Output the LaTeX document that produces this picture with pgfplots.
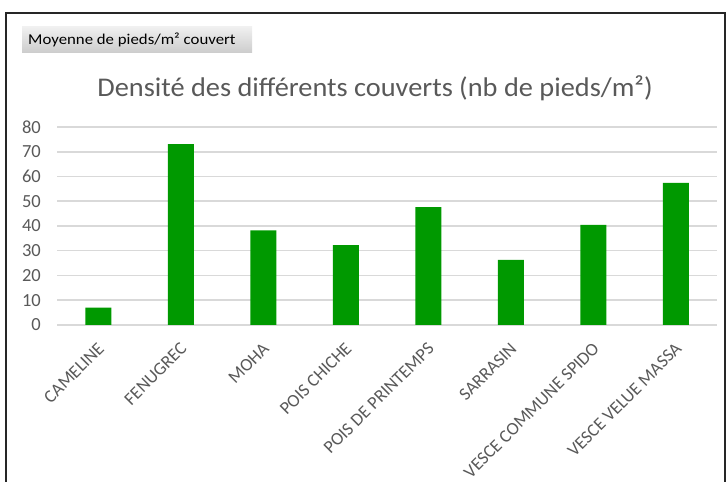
\documentclass[border=0pt]{standalone}
\usepackage{fontspec}
\setmainfont{Carlito}
\usepackage{pgfplots}
\pgfplotsset{compat=1.18}
\definecolor{barg}{RGB}{0,153,0}
\definecolor{txtg}{RGB}{89,89,89}
\definecolor{gridg}{RGB}{217,217,217}
\begin{document}
\begin{tikzpicture}[x=1bp,y=1bp]
\path[use as bounding box] (0,0) rectangle (728,482);
% chart frame (bottom is cut off in the reference)
\draw[line width=2.2bp, black!85] (6,-5) -- (6,469) -- (725,469) -- (725,-5);
% pivot field button
\shade[top color=gray!12, bottom color=gray!40] (22,429) rectangle (252,455);
\node[anchor=west, inner sep=0pt, xscale=1.12, font=\fontsize{15bp}{17bp}\selectfont] at (28,442) {Moyenne de pieds/m² couvert};
\node[text=txtg, xscale=1.05, font=\fontsize{27bp}{31bp}\selectfont] at (375,394) {Densité des différents couverts (nb de pieds/m²)};
\begin{axis}[
  at={(57bp,157bp)}, anchor=south west,
  scale only axis, width=660bp, height=198bp,
  ybar, bar width=26bp,
  xmin=-0.5, xmax=7.5, ymin=0, ymax=80,
  ytick={0,10,...,80},
  xtick={0,...,7},
  xticklabels={CAMELINE,FENUGREC,MOHA,POIS CHICHE,POIS DE PRINTEMPS,SARRASIN,VESCE COMMUNE SPIDO,VESCE VELUE MASSA},
  axis line style={draw=none},
  tick style={draw=none},
  ymajorgrids, grid style={gridg, line width=1.5bp},
  /pgf/number format/assume math mode=true,
  yticklabel style={text=txtg, font=\fontsize{18.5bp}{20bp}\selectfont, anchor=east, inner sep=0pt, xshift=-16bp},
  xticklabel style={text=txtg, font=\fontsize{18bp}{20bp}\selectfont, rotate=45, anchor=north east, inner sep=0pt, xshift=-9.5bp, yshift=-7.5bp},
]
\addplot[fill=barg, draw=none] coordinates {(0,7.0) (1,73.1) (2,38.2) (3,32.3) (4,47.6) (5,26.3) (6,40.5) (7,57.4)};
\end{axis}
\end{tikzpicture}
\end{document}
